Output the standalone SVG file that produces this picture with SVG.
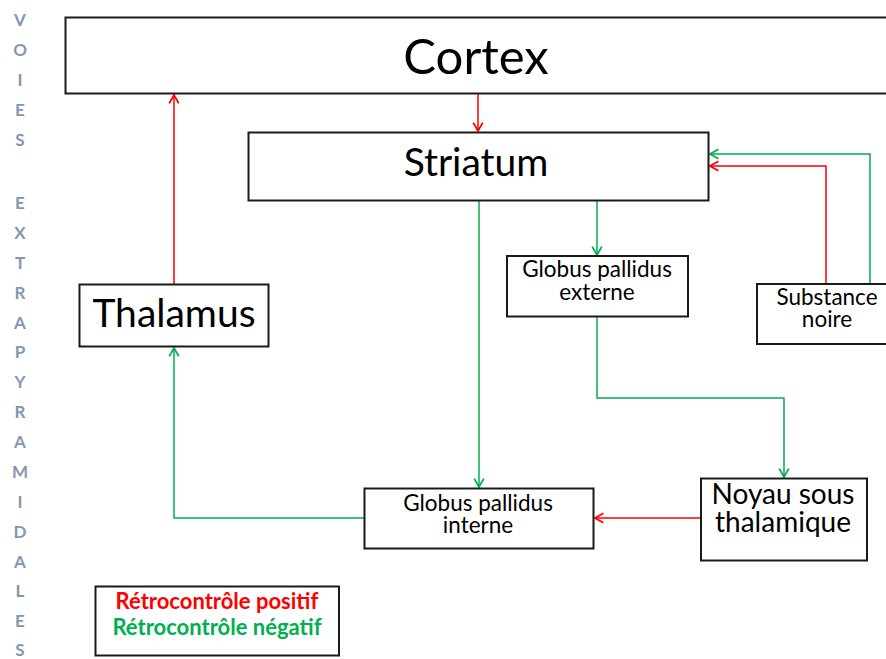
<svg xmlns="http://www.w3.org/2000/svg" width="886" height="659" viewBox="0 0 886 659">
<style>
.box{fill:#fff;stroke:#1a1a1a;stroke-width:2}
.t{font-family:Lato,"Open Sans",sans-serif;fill:#000;text-anchor:middle}
.side{font-family:Lato,"Open Sans",sans-serif;font-weight:bold;font-size:17px;fill:#8497B0;text-anchor:middle}
.r{fill:none;stroke:#ff0000;stroke-width:1.5}
.g{fill:none;stroke:#00B050;stroke-width:1.5}
.leg{font-family:Lato,"Open Sans",sans-serif;font-weight:bold;font-size:22px;text-anchor:middle}
</style>
<defs>
<marker id="ar" markerUnits="userSpaceOnUse" markerWidth="12" markerHeight="12" refX="8" refY="5" orient="auto" viewBox="0 0 10 10">
<path d="M1,1 L8,5 L1,9" fill="none" stroke="#ff0000" stroke-width="1.5"/>
</marker>
<marker id="ag" markerUnits="userSpaceOnUse" markerWidth="12" markerHeight="12" refX="8" refY="5" orient="auto" viewBox="0 0 10 10">
<path d="M1,1 L8,5 L1,9" fill="none" stroke="#00B050" stroke-width="1.5"/>
</marker>
</defs>
<rect width="886" height="659" fill="#fff"/>
<g id="side-label">
<text class="side" x="20" y="26">V</text>
<text class="side" x="20" y="56">O</text>
<text class="side" x="20" y="86">I</text>
<text class="side" x="20" y="116">E</text>
<text class="side" x="20" y="146">S</text>
<text class="side" x="20" y="209">E</text>
<text class="side" x="20" y="239">X</text>
<text class="side" x="20" y="269">T</text>
<text class="side" x="20" y="299">R</text>
<text class="side" x="20" y="329">A</text>
<text class="side" x="20" y="358">P</text>
<text class="side" x="20" y="388">Y</text>
<text class="side" x="20" y="418">R</text>
<text class="side" x="20" y="448">A</text>
<text class="side" x="20" y="478">M</text>
<text class="side" x="20" y="508">I</text>
<text class="side" x="20" y="538">D</text>
<text class="side" x="20" y="568">A</text>
<text class="side" x="20" y="597">L</text>
<text class="side" x="20" y="627">E</text>
<text class="side" x="20" y="656">S</text>
</g>
<g id="connectors">
<path class="r" d="M478,94 V131" marker-end="url(#ar)"/>
<path class="r" d="M174,284 V95" marker-end="url(#ar)"/>
<path class="g" d="M479,200 V487" marker-end="url(#ag)"/>
<path class="g" d="M597,200 V255" marker-end="url(#ag)"/>
<path class="g" d="M597,317 V398 H784 V477" marker-end="url(#ag)"/>
<path class="r" d="M701,518 H595" marker-end="url(#ar)"/>
<path class="g" d="M364,518 H174 V348" marker-end="url(#ag)"/>
<path class="r" d="M826,284 V166 H710" marker-end="url(#ar)"/>
<path class="g" d="M870,284 V154 H710" marker-end="url(#ag)"/>
</g>
<g id="cortex">
<rect class="box" x="65.5" y="17.5" width="830" height="76"/>
<text class="t" x="476" y="74" font-size="49">Cortex</text>
</g>
<g id="striatum">
<rect class="box" x="248.5" y="132.5" width="460" height="68"/>
<text class="t" x="476" y="176" font-size="39">Striatum</text>
</g>
<g id="gpe">
<rect class="box" x="507" y="256" width="181" height="60.5"/>
<text class="t" x="597" y="277" font-size="22.5">Globus pallidus</text>
<text class="t" x="597" y="300" font-size="22.5">externe</text>
</g>
<g id="substance-noire">
<rect class="box" x="757" y="284" width="140" height="60"/>
<text class="t" x="827" y="305" font-size="22.5">Substance</text>
<text class="t" x="827" y="327" font-size="22.5">noire</text>
</g>
<g id="thalamus">
<rect class="box" x="79.5" y="284.5" width="189" height="62"/>
<text class="t" x="174" y="327" font-size="39">Thalamus</text>
</g>
<g id="gpi">
<rect class="box" x="364.5" y="488.5" width="229" height="60"/>
<text class="t" x="478" y="511" font-size="22.5">Globus pallidus</text>
<text class="t" x="478" y="533" font-size="22.5">interne</text>
</g>
<g id="nst">
<rect class="box" x="701" y="478.5" width="166" height="82"/>
<text class="t" x="783" y="504" font-size="28">Noyau sous</text>
<text class="t" x="783" y="532" font-size="28">thalamique</text>
</g>
<g id="legend">
<rect class="box" x="95.5" y="586.5" width="243.5" height="69"/>
<text class="leg" x="217" y="609" fill="#ff0000">Rétrocontrôle positif</text>
<text class="leg" x="217" y="635" fill="#00B050">Rétrocontrôle négatif</text>
</g>
</svg>
